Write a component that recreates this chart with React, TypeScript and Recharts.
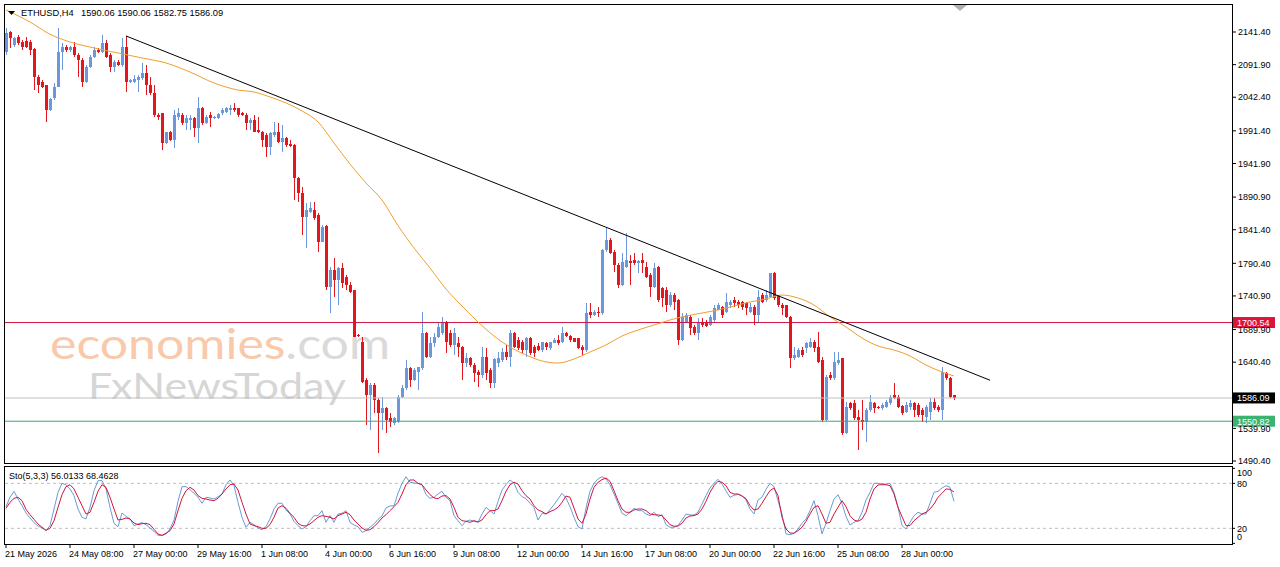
import React from 'react';
import { ComposedChart, Bar, Line, XAxis, YAxis, ReferenceLine } from 'recharts';

const FONT = "'Liberation Sans', Arial, sans-serif";
const BULL = '#6b98dc';
const BEAR = '#e3161d';
const SLOTS = 307;

const opens = [
2111.6,2142.0,2121.7,2134.4,2126.8,2128.3,2126.8,2115.2,2073.6,2066.1,
2061.0,2023.1,2040.8,2058.5,2111.6,2119.2,2114.1,2119.2,2106.6,2099.0,
2066.1,2088.8,2104.0,2114.1,2111.6,2124.2,2106.6,2088.8,2096.4,2091.4,
2118.7,2066.1,2066.1,2068.6,2071.1,2078.7,2061.0,2048.4,2015.5,2018.0,
1972.5,1990.2,1977.5,2013.0,2015.5,2002.9,2007.9,2010.4,1995.3,2025.6,
2002.9,2015.5,2010.4,2010.4,2018.0,2020.6,2023.1,2025.6,2025.6,2018.0,
2015.5,2002.9,2007.9,1992.7,1990.2,1985.2,1967.4,1985.2,1990.2,1975.0,
1980.1,1971.5,1970.0,1919.4,1896.6,1861.2,1868.8,1871.3,1863.7,1823.3,
1847.6,1755.0,1780.3,1765.1,1782.8,1770.2,1757.5,1749.9,1681.6,1671.5,
1613.4,1590.6,1605.8,1583.0,1562.8,1570.4,1555.2,1547.6,1550.2,1588.1,
1600.7,1631.1,1613.4,1626.0,1631.1,1684.2,1648.8,1669.0,1679.1,1684.2,
1701.9,1684.2,1666.5,1669.0,1663.9,1638.7,1646.2,1636.1,1626.0,1621.0,
1648.8,1628.5,1608.3,1638.7,1643.7,1656.4,1648.8,1684.2,1674.1,1671.5,
1658.9,1676.6,1663.9,1665.0,1658.9,1670.0,1661.4,1670.0,1674.1,1671.5,
1685.2,1680.6,1676.6,1676.6,1663.9,1658.9,1717.1,1712.0,1717.1,1714.5,
1810.6,1825.8,1808.1,1787.9,1757.5,1785.3,1794.4,1795.5,1791.4,1795.5,
1785.3,1772.7,1755.0,1785.3,1752.5,1749.9,1727.2,1742.3,1734.8,1674.1,
1701.9,1709.5,1694.3,1684.2,1701.9,1701.9,1696.8,1704.4,1719.6,1723.6,
1717.1,1727.2,1734.8,1732.2,1732.2,1729.7,1717.1,1724.6,1712.0,1742.3,
1734.8,1739.8,1775.2,1742.3,1727.2,1727.2,1709.5,1646.2,1648.8,1658.9,
1661.4,1664.0,1671.5,1664.0,1643.7,1552.7,1620.9,1615.9,1638.7,1646.2,
1532.4,1579.0,1579.0,1557.7,1552.7,1550.2,1567.8,1579.0,1572.9,1570.4,
1572.9,1578.0,1590.6,1588.1,1574.0,1565.3,1572.9,1578.0,1575.4,1567.8,
1557.7,1565.3,1580.5,1572.9,1567.8,1623.4,1615.9,1590.06];

const highs = [
2147.0,2143.0,2134.4,2136.9,2129.3,2134.4,2129.3,2116.6,2076.2,2068.6,
2061.5,2040.8,2063.6,2147.0,2124.2,2121.7,2120.2,2126.8,2109.1,2101.5,
2091.4,2106.6,2119.2,2116.6,2136.9,2129.3,2109.1,2099.0,2099.0,2131.8,
2135.4,2069.6,2076.2,2076.2,2093.9,2091.4,2073.6,2061.0,2018.0,2018.5,
1990.2,1991.2,2023.1,2025.6,2018.0,2015.5,2015.5,2013.0,2043.3,2027.1,
2015.5,2020.6,2014.0,2018.0,2025.6,2027.1,2030.7,2033.2,2026.0,2020.6,
2018.0,2010.4,2015.5,2013.0,1990.7,1987.7,1990.2,2005.4,2002.9,2000.3,
1982.6,1977.5,1971.5,1921.9,1906.7,1881.4,1884.0,1884.0,1866.3,1848.6,
1848.6,1785.3,1798.0,1785.3,1790.4,1772.7,1762.6,1750.5,1682.5,1679.1,
1615.9,1608.3,1608.3,1585.5,1588.1,1572.9,1562.8,1557.7,1590.6,1605.8,
1643.7,1633.6,1631.1,1633.6,1717.1,1686.7,1679.1,1684.2,1701.9,1709.5,
1703.0,1689.2,1691.8,1679.1,1664.5,1653.8,1648.8,1638.7,1628.5,1663.9,
1661.4,1631.1,1646.2,1656.4,1661.4,1666.5,1689.2,1686.7,1679.1,1674.1,
1679.1,1679.1,1666.5,1669.0,1671.5,1671.5,1671.5,1676.6,1681.6,1694.3,
1686.7,1681.6,1677.0,1677.5,1666.5,1729.7,1729.7,1720.0,1724.6,1812.0,
1846.0,1828.3,1810.6,1790.4,1805.6,1835.9,1803.0,1805.6,1795.5,1805.6,
1792.9,1775.2,1790.4,1786.0,1755.0,1755.0,1747.4,1744.9,1735.5,1714.5,
1714.5,1712.0,1696.8,1706.9,1706.9,1704.4,1712.0,1727.2,1729.7,1725.7,
1744.9,1734.8,1739.8,1734.8,1733.0,1732.2,1729.7,1727.2,1749.9,1744.9,
1749.9,1776.0,1777.8,1742.5,1729.7,1727.5,1710.0,1664.0,1661.4,1664.0,
1671.5,1676.6,1674.1,1686.7,1648.8,1620.9,1626.0,1656.4,1656.4,1647.0,
1580.5,1580.5,1583.0,1567.8,1583.0,1570.4,1590.6,1580.5,1574.0,1578.0,
1583.0,1590.6,1608.3,1590.6,1575.4,1580.5,1583.0,1580.5,1578.0,1570.4,
1575.4,1585.5,1585.5,1575.0,1633.6,1626.0,1618.4,1590.06];

const lows = [
2106.6,2116.6,2119.2,2121.7,2114.1,2116.6,2106.6,2053.4,2048.4,2056.0,
2005.4,2022.1,2038.3,2058.0,2083.8,2111.6,2111.6,2104.0,2073.6,2058.5,
2063.6,2086.3,2101.5,2109.1,2109.1,2102.5,2081.3,2081.3,2090.0,2088.8,
2050.9,2063.6,2063.6,2050.9,2068.6,2045.8,2045.8,2013.0,2007.9,1962.4,
1971.5,1976.5,1964.9,2007.9,2000.3,1992.7,1992.7,1982.6,1972.5,2000.3,
2001.8,1997.8,2008.9,2009.4,2015.5,2019.0,2015.5,2020.6,2013.0,2014.0,
1992.7,1992.7,1989.0,1987.7,1967.4,1952.3,1954.8,1982.6,1972.5,1959.9,
1967.4,1966.4,1886.5,1884.0,1833.4,1813.2,1866.3,1856.2,1808.1,1822.0,
1749.9,1714.5,1739.8,1727.2,1752.5,1749.9,1744.9,1678.0,1678.5,1608.3,
1545.1,1537.5,1562.8,1502.1,1537.5,1532.4,1542.6,1545.1,1547.6,1585.5,
1598.2,1603.3,1612.0,1598.2,1628.5,1646.2,1646.2,1663.9,1676.6,1681.6,
1653.8,1663.9,1651.3,1648.8,1613.4,1633.6,1633.6,1610.8,1603.3,1615.9,
1613.4,1600.7,1600.7,1633.6,1641.2,1643.7,1633.6,1661.4,1658.9,1653.8,
1648.8,1651.3,1648.8,1657.0,1656.4,1658.9,1658.9,1669.0,1666.5,1669.0,
1679.1,1671.5,1671.0,1660.0,1651.3,1656.4,1706.9,1710.0,1709.5,1712.0,
1808.1,1804.0,1777.8,1752.5,1756.0,1782.8,1757.5,1787.9,1775.2,1775.2,
1767.6,1739.8,1752.5,1732.2,1724.6,1717.1,1724.6,1719.6,1666.5,1673.0,
1699.4,1681.6,1681.6,1674.1,1694.3,1694.3,1695.3,1701.9,1719.0,1706.9,
1714.5,1722.1,1724.6,1722.1,1719.6,1712.0,1714.5,1696.8,1701.9,1729.7,
1732.2,1737.3,1734.8,1724.6,1712.0,1706.9,1631.1,1643.7,1646.2,1648.8,
1653.8,1661.4,1656.4,1638.7,1550.2,1551.0,1613.4,1613.4,1636.1,1529.9,
1531.0,1567.8,1552.7,1507.2,1537.5,1519.8,1565.3,1562.8,1569.0,1567.8,
1570.4,1575.4,1584.0,1570.4,1560.3,1562.8,1567.8,1557.7,1557.7,1550.2,
1547.6,1552.7,1567.8,1565.0,1552.7,1613.4,1585.5,1582.75];

const closes = [
2139.4,2131.8,2131.8,2124.2,2119.2,2118.2,2114.1,2073.6,2061.0,2058.5,
2023.1,2040.3,2058.5,2111.6,2119.2,2114.1,2119.2,2106.6,2099.0,2066.1,
2088.8,2104.0,2114.1,2111.6,2124.2,2104.0,2088.8,2096.4,2091.4,2118.7,
2066.1,2068.6,2070.6,2072.6,2078.7,2061.0,2048.4,2015.5,2013.0,1972.5,
1989.7,1977.5,2015.5,2018.0,2002.9,2010.4,2010.4,1995.3,2025.6,2002.9,
2013.0,2010.4,2013.0,2017.0,2023.1,2025.6,2025.6,2023.1,2015.5,2015.5,
2002.9,2007.9,1990.2,1990.2,1977.5,1967.4,1987.7,1990.2,1975.0,1980.1,
1970.0,1968.4,1919.4,1896.6,1861.2,1871.3,1873.9,1858.7,1823.3,1846.0,
1755.0,1780.3,1765.1,1782.8,1760.1,1757.5,1747.4,1679.1,1679.6,1610.8,
1590.6,1605.8,1583.0,1562.8,1570.4,1552.7,1550.2,1555.2,1588.1,1600.7,
1631.1,1613.4,1628.5,1633.1,1684.2,1648.8,1669.0,1679.1,1694.3,1701.9,
1671.5,1666.5,1684.2,1663.9,1638.7,1646.2,1636.1,1623.5,1621.0,1648.8,
1623.5,1608.3,1645.7,1646.2,1656.4,1648.8,1684.2,1663.9,1661.4,1658.9,
1676.6,1653.8,1653.8,1658.9,1671.0,1663.9,1671.0,1674.1,1669.0,1684.2,
1680.1,1674.1,1671.5,1661.4,1658.9,1714.5,1712.0,1717.1,1714.5,1810.6,
1825.8,1805.6,1787.9,1757.5,1792.9,1795.5,1790.4,1790.4,1794.4,1790.4,
1770.2,1755.0,1782.8,1734.8,1737.3,1727.2,1742.3,1732.2,1674.1,1709.5,
1712.0,1691.8,1684.2,1701.9,1696.8,1695.3,1709.5,1722.1,1727.2,1712.0,
1732.2,1732.2,1729.7,1727.2,1724.6,1722.1,1724.6,1712.0,1739.8,1732.2,
1742.3,1775.2,1737.3,1727.2,1722.1,1709.5,1646.2,1651.3,1658.9,1651.3,
1669.0,1671.5,1661.4,1641.2,1552.7,1618.4,1615.9,1641.2,1643.7,1532.4,
1572.9,1570.4,1555.2,1552.7,1550.2,1567.8,1580.5,1570.4,1570.4,1575.4,
1580.5,1588.1,1585.5,1572.9,1562.8,1575.4,1578.0,1567.8,1560.3,1560.3,
1572.9,1580.5,1570.4,1567.8,1626.0,1615.9,1588.1,1586.09];

// moving average, read at sampled bars
const maIndex = [0,6,11,16,22,28,34,40,46,52,58,62,66,70,74,78,82,86,90,94,98,102,106,110,114,118,122,126,130,134,138,142,146,150,154,158,162,166,170,174,178,182,186,190,194,198,202,206,210,214,218,222,226,230,234,237];
const maValues = [2174.8,2156.6,2138.0,2126.3,2117.2,2109.6,2102.0,2094.4,2080.7,2064.0,2053.4,2050.4,2042.8,2033.7,2021.6,2004.9,1973.0,1941.0,1912.3,1886.5,1847.6,1813.7,1783.3,1751.4,1725.6,1701.4,1680.1,1663.4,1651.3,1642.2,1639.1,1645.2,1655.8,1666.5,1680.1,1689.2,1696.8,1704.4,1710.5,1715.0,1719.6,1725.6,1731.7,1736.3,1742.3,1737.8,1727.2,1709.0,1693.8,1677.1,1665.0,1658.9,1649.8,1636.1,1625.5,1619.4];

// trend line anchors
const trendIndex = [30, 246];
const trendValues = [2135.4, 1613.0];

const stochK = [
48.9,61.4,69.4,59.1,50.2,40.5,33.8,27.6,23.1,20.5,
16.9,23.6,45.8,68.0,80.0,78.2,72.5,63.6,45.8,34.7,
32.5,48.0,70.2,83.6,83.6,72.5,48.0,26.7,22.2,40.5,
36.0,32.5,23.6,25.8,27.6,24.9,20.5,16.0,10.7,10.2,
12.5,19.1,31.1,56.0,75.6,75.6,71.6,66.7,61.4,53.4,
61.4,60.5,59.1,62.2,65.8,78.2,84.5,76.9,54.7,34.7,
21.4,28.0,24.9,20.5,18.2,22.2,32.5,45.8,53.4,53.4,
44.5,39.1,29.4,23.6,19.1,22.2,30.2,36.9,36.9,43.6,
28.0,36.9,28.0,39.1,40.0,43.6,28.0,24.5,22.2,14.7,
16.9,21.4,25.8,32.0,36.5,47.1,49.8,50.2,66.7,80.0,
88.9,81.4,80.5,80.0,78.2,64.9,60.0,61.4,65.8,69.4,
61.4,56.9,36.9,30.2,23.6,29.4,31.1,29.4,28.0,39.1,
48.0,43.6,39.1,56.0,71.1,78.2,84.5,80.5,68.0,62.2,
59.6,53.4,48.0,31.1,40.0,39.1,44.9,51.6,59.1,66.7,
60.5,48.9,34.7,22.2,19.1,47.1,69.4,80.0,85.8,88.9,
85.8,78.2,65.8,53.4,40.0,36.9,41.4,46.7,43.6,43.6,
39.1,36.9,41.4,35.6,38.2,24.9,21.4,21.4,23.6,31.1,
39.1,37.8,37.8,41.4,52.5,63.6,73.8,80.0,85.4,79.1,
70.0,61.4,64.0,65.3,63.6,57.8,45.8,39.1,57.8,61.4,
72.0,80.0,75.6,56.9,39.1,12.5,11.6,13.4,19.1,26.7,
32.5,43.6,56.9,36.9,12.5,26.7,43.6,59.1,64.9,53.4,
35.6,24.5,28.0,30.2,41.4,57.8,68.0,80.0,80.0,79.1,
79.1,80.0,68.0,48.0,23.6,19.1,28.0,36.9,41.4,39.1,
39.1,53.4,68.0,69.4,73.8,76.9,74.7,56.01];

const stochD = [
46.7,54.7,60.0,61.4,56.9,45.4,38.2,32.0,25.8,21.4,
17.4,20.0,30.2,48.0,64.9,75.6,78.2,72.5,61.4,50.2,
39.1,41.4,54.7,69.4,78.2,74.7,61.4,45.8,31.1,32.0,
33.8,32.5,27.1,24.9,26.2,26.7,24.9,18.7,12.5,10.7,
13.4,16.9,25.8,43.6,60.0,70.2,74.7,71.1,63.6,60.0,
59.1,57.8,56.9,60.0,65.8,72.5,78.2,79.1,71.1,54.7,
39.1,25.8,23.6,22.2,20.0,20.0,24.9,34.7,47.1,50.2,
46.7,40.0,34.7,26.7,23.6,23.1,25.8,30.2,34.7,36.9,
36.0,34.7,32.5,36.9,39.1,41.4,38.2,31.1,25.8,20.5,
17.4,18.2,22.2,27.6,33.8,38.2,43.6,48.9,54.7,65.8,
78.2,84.5,84.5,80.0,78.2,71.1,64.9,60.5,59.6,63.1,
63.6,59.1,48.0,34.7,30.2,29.4,28.0,30.2,28.5,31.1,
38.2,43.6,43.6,45.8,56.9,69.4,78.2,81.4,79.1,70.2,
63.6,59.1,50.2,44.5,42.3,39.1,42.3,44.5,48.0,54.7,
63.1,61.4,47.1,32.5,26.7,39.1,59.1,74.7,81.4,84.9,
87.1,82.7,70.2,56.9,45.8,41.4,41.4,44.5,45.8,45.8,
43.6,39.1,38.2,37.8,36.9,31.1,24.9,22.7,23.1,26.7,
33.8,36.5,36.9,39.1,45.8,56.0,68.0,76.9,82.7,81.4,
76.9,68.0,65.8,65.8,63.1,59.6,50.2,44.5,45.8,53.4,
62.2,70.2,73.8,63.6,34.7,19.1,13.8,13.4,16.9,21.4,
29.4,39.1,48.0,50.2,39.1,26.7,28.0,39.1,48.0,56.9,
48.9,36.9,31.1,29.4,32.5,41.4,59.1,72.5,77.8,78.2,
78.2,76.9,65.8,48.0,35.6,23.6,23.6,30.2,34.7,39.1,
41.4,45.8,52.5,61.4,66.7,72.5,72.0,68.46];

const priceTicks = [2141.4,2091.9,2042.4,1991.4,1941.9,1890.9,1841.4,1790.4,1740.9,1689.9,1640.4,1539.9,1490.4];
const xTickIndex = [0,16,32,48,64,80,96,112,128,144,160,176,192,208,224];
const xTickLabels = ['21 May 2026','24 May 08:00','27 May 00:00','29 May 16:00','1 Jun 08:00','4 Jun 00:00','6 Jun 16:00','9 Jun 08:00','12 Jun 00:00','14 Jun 16:00','17 Jun 08:00','20 Jun 00:00','22 Jun 16:00','25 Jun 08:00','28 Jun 00:00'];
const stochTicks = [0, 20, 80, 100];

const levels = [
  { value: 1700.54, line: '#d0143c', box: '#dc143c', text: '#ffffff' },
  { value: 1586.09, line: '#c0c0c0', box: '#000000', text: '#ffffff' },
  { value: 1550.82, line: '#3ea86a', box: '#3cb371', text: '#ffffff' },
];

const mainRows = Array.from({ length: SLOTS }, (_, i) => {
  const row: any = { i };
  if (i < opens.length) {
    row.o = opens[i]; row.h = highs[i]; row.l = lows[i]; row.c = closes[i];
    row.range = [lows[i], highs[i]];
  }
  const m = maIndex.indexOf(i);
  if (m >= 0) row.ma = maValues[m];
  const t = trendIndex.indexOf(i);
  if (t >= 0) row.trend = trendValues[t];
  return row;
});

const stochRows = stochK.map((k, i) => ({ i, k, d: stochD[i] }));

const Candle = (props: any) => {
  const { x, y, width, height, payload } = props;
  if (!payload || payload.o == null || x == null) return null;
  const top = Math.min(y, y + height);
  const bot = Math.max(y, y + height);
  const span = payload.h - payload.l;
  const k = span > 0 ? (bot - top) / span : 0;
  const yO = top + (payload.h - payload.o) * k;
  const yC = top + (payload.h - payload.c) * k;
  const col = Math.round(x + width / 2 - 0.5);
  const color = payload.c >= payload.o ? BULL : BEAR;
  const bT = Math.round(Math.min(yO, yC));
  const bB = Math.round(Math.max(yO, yC));
  const wT = Math.round(top);
  const wB = Math.round(bot);
  return (
    <g>
      <rect x={col} y={wT} width={1} height={Math.max(1, wB - wT)} fill={color} />
      <rect x={col - 1} y={bT} width={3} height={Math.max(1, bB - bT)} fill={color} />
    </g>
  );
};

const PriceTag = (props: any) => {
  const { viewBox, bg, fg, text } = props;
  if (!viewBox) return null;
  const x0 = viewBox.x + viewBox.width + 1;
  const y0 = viewBox.y;
  return (
    <g>
      <rect x={x0} y={y0 - 5.5} width={42} height={11} fill={bg} />
      <text x={x0 + 4} y={y0 + 3.3} fontSize={9} fontFamily={FONT} fill={fg}>{text}</text>
    </g>
  );
};

const XTick = (props: any) => {
  const { x, y, payload } = props;
  const idx = xTickIndex.indexOf(payload.value);
  return (
    <text x={x - 1} y={y} dy={6.5} fontSize={9} fontFamily={FONT} fill="#000" textAnchor="start">
      {idx >= 0 ? xTickLabels[idx] : ''}
    </text>
  );
};

const StochTick = (props: any) => {
  const { x, y, payload } = props;
  const v = payload.value;
  const shift = v === 100 ? 4.4 : v === 0 ? -6.6 : 0;
  return (
    <text x={x} y={y + shift + 3.2} fontSize={9} fontFamily={FONT} fill="#000" textAnchor="start">{v}</text>
  );
};

export default function App() {
  return (
    <div style={{ position: 'absolute', left: 0, top: 0, width: 1280, height: 567, background: '#ffffff', overflow: 'hidden', fontFamily: FONT }}>
      {/* watermark behind chart */}
      <svg width={1280} height={567} style={{ position: 'absolute', left: 0, top: 0 }}>
        <text x={50} y={359} fontSize={42} fontFamily="Lato, 'Open Sans', sans-serif" textLength={340} lengthAdjust="spacingAndGlyphs">
          <tspan fill="#f8c9aa">economies</tspan>
          <tspan fill="#dadada">.com</tspan>
        </text>
        <text x={88} y={399} fontSize={37} fontFamily="Lato, 'Open Sans', sans-serif" fill="#d6d6d6" textLength={258} lengthAdjust="spacingAndGlyphs">FxNewsToday</text>
      </svg>

      <div style={{ position: 'absolute', left: 0, top: 0 }}>
        <ComposedChart width={1280} height={466} data={mainRows} margin={{ top: 4, right: 0, bottom: 3, left: 4 }}>
          <XAxis dataKey="i" type="category" hide />
          <YAxis
            orientation="right"
            width={48}
            type="number"
            domain={[1487.4, 2183.9]}
            allowDataOverflow
            ticks={priceTicks}
            interval={0}
            axisLine={false}
            tickSize={4}
            tickMargin={2}
            tickLine={{ stroke: '#000' }}
            tick={{ fontSize: 9, fill: '#000', fontFamily: FONT }}
            tickFormatter={(v: number) => v.toFixed(2)}
          />
          {levels.map((lv) => (
            <ReferenceLine
              key={lv.value}
              y={lv.value}
              stroke={lv.line}
              strokeWidth={1}
              ifOverflow="extendDomain"
              label={<PriceTag bg={lv.box} fg={lv.text} text={lv.value.toFixed(2)} />}
            />
          ))}
          <Bar dataKey="range" barSize={3} shape={<Candle />} isAnimationActive={false} />
          <Line dataKey="ma" type="monotone" stroke="#f0a030" strokeWidth={1} dot={false} connectNulls isAnimationActive={false} />
          <Line dataKey="trend" type="linear" stroke="#000000" strokeWidth={1} dot={false} connectNulls isAnimationActive={false} />
        </ComposedChart>
      </div>

      <div style={{ position: 'absolute', left: 0, top: 462 }}>
        <ComposedChart width={1280} height={105} data={stochRows} margin={{ top: 5, right: 0, bottom: 2, left: 4 }}>
          <XAxis
            dataKey="i"
            type="number"
            domain={[-0.5, 306.5]}
            allowDataOverflow
            ticks={xTickIndex}
            interval={0}
            height={21}
            axisLine={false}
            tickSize={4}
            tickMargin={2}
            tickLine={{ stroke: '#000' }}
            tick={<XTick />}
          />
          <YAxis
            orientation="right"
            width={48}
            type="number"
            domain={[-0.9, 101.8]}
            allowDataOverflow
            ticks={stochTicks}
            interval={0}
            axisLine={false}
            tickSize={3}
            tickMargin={2}
            tickLine={{ stroke: '#000' }}
            tick={<StochTick />}
          />
          <ReferenceLine y={80} stroke="#bdbdbd" strokeDasharray="3 3" />
          <ReferenceLine y={20} stroke="#bdbdbd" strokeDasharray="3 3" />
          <Line dataKey="k" type="linear" stroke="#6b9bd6" strokeWidth={1} dot={false} isAnimationActive={false} />
          <Line dataKey="d" type="linear" stroke="#d4143a" strokeWidth={1} dot={false} isAnimationActive={false} />
        </ComposedChart>
      </div>

      {/* panel borders */}
      <div style={{ position: 'absolute', left: 4, top: 4, width: 1229, height: 460, border: '1px solid #000', boxSizing: 'border-box', pointerEvents: 'none' }} />
      <div style={{ position: 'absolute', left: 4, top: 466, width: 1229, height: 79, border: '1px solid #000', boxSizing: 'border-box', pointerEvents: 'none' }} />

      {/* texts on top */}
      <svg width={1280} height={567} style={{ position: 'absolute', left: 0, top: 0, pointerEvents: 'none' }}>
        <polygon points="8,11 15,11 11.5,15" fill="#000" />
        <text x={21} y={16} fontSize={9.3} fontFamily={FONT} fill="#000">ETHUSD,H4</text>
        <text x={81} y={16} fontSize={9.3} fontFamily={FONT} fill="#000">1590.06 1590.06 1582.75 1586.09</text>
        <text x={9} y={479} fontSize={9} fontFamily={FONT} fill="#000">Sto(5,3,3) 56.0133 68.4628</text>
        <polygon points="953,5 967,5 960,11" fill="#b0b0b0" />
      </svg>
    </div>
  );
}
